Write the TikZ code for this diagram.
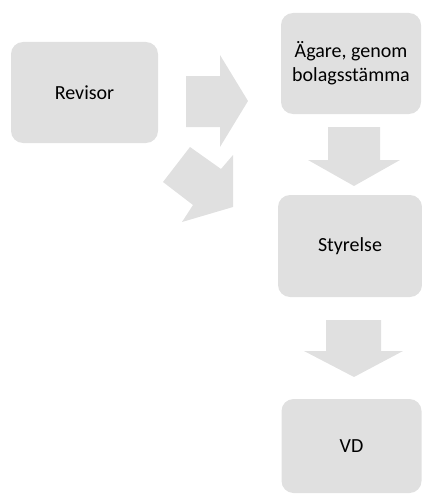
\documentclass[tikz,border=0pt]{standalone}
\usepackage{fontspec}
\setmainfont{Carlito}
\definecolor{boxgray}{RGB}{224,224,224}
\begin{document}
\begin{tikzpicture}[x=1pt,y=-1pt,
  box/.style={fill=boxgray, draw=none, rounded corners=12pt, inner sep=0pt,
    align=center, font=\fontsize{20}{24.4}\selectfont, text=black},
  blockarrow/.style={fill=boxgray, draw=none}]
\useasboundingbox (0,0) rectangle (422,495);
\node[box, minimum width=147pt, minimum height=101pt] (rev) at (84.5,92.5) {Revisor};
\node[box, minimum width=140pt, minimum height=101pt] (agare) at (351,63.5) {Ägare, genom\\bolagsstämma};
\node[box, minimum width=144pt, minimum height=102pt] (sty) at (350,246) {Styrelse};
\node[box, minimum width=140pt, minimum height=94pt] (vd) at (351.5,446) {VD};
% arrow Revisor -> Ägare
\fill[blockarrow] (186,76) -- (220,76) -- (220,55) -- (248,101) -- (220,147) -- (220,127) -- (186,127) -- cycle;
% diagonal arrow Revisor -> Styrelse (clipped)
\fill[blockarrow] (190,147) -- (221,169) -- (233,155) -- (233,207) -- (182,222) -- (193,205) -- (163,182) -- cycle;
% arrow Ägare -> Styrelse
\fill[blockarrow] (328,127) -- (380,127) -- (380,160) -- (400,160) -- (354,186) -- (308,160) -- (328,160) -- cycle;
% arrow Styrelse -> VD
\fill[blockarrow] (326,320) -- (381,320) -- (381,351) -- (403,351) -- (354,377) -- (304,351) -- (326,351) -- cycle;
\end{tikzpicture}
\end{document}
